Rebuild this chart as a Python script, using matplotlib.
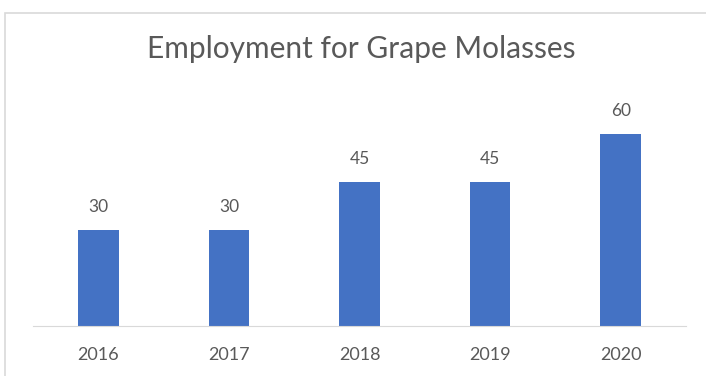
import matplotlib.pyplot as plt
from matplotlib.patches import Rectangle

years = ['2016', '2017', '2018', '2019', '2020']
employment = [30, 30, 45, 45, 60]

plt.rcParams['font.family'] = ['Lato', 'DejaVu Sans']

fig = plt.figure(figsize=(7.06, 3.76), dpi=100)
fig.patch.set_facecolor('white')

# chart frame, only the left and top edges fall inside the image
fig.patches.append(Rectangle((5 / 706, -0.1), 1.2, (376 - 13) / 376 + 0.1,
                             transform=fig.transFigure, fill=False,
                             edgecolor='#d9d9d9', lw=1.2))

ax = fig.add_axes([33 / 706, 50 / 376, 653 / 706, 224 / 376])
x = range(len(years))
bars = ax.bar(x, employment, width=0.31, color='#4472c4')

for b, v in zip(bars, employment):
    ax.text(b.get_x() + b.get_width() / 2, v + 5.5, str(v),
            ha='center', va='baseline', fontsize=12.5, color='#595959')

ax.set_xlim(-0.5, 4.5)
ax.set_ylim(0, 70)
ax.set_xticks(list(x))
ax.set_xticklabels(years, fontsize=13, color='#595959')
ax.tick_params(axis='x', length=0, pad=15)
ax.set_yticks([])
for s in ['top', 'right', 'left']:
    ax.spines[s].set_visible(False)
ax.spines['bottom'].set_color('#d9d9d9')

fig.text(361 / 706, 1 - 58 / 376, 'Employment for Grape Molasses',
         ha='center', va='baseline', fontsize=21.5, color='#595959')

fig.savefig('out.png', dpi=100)
